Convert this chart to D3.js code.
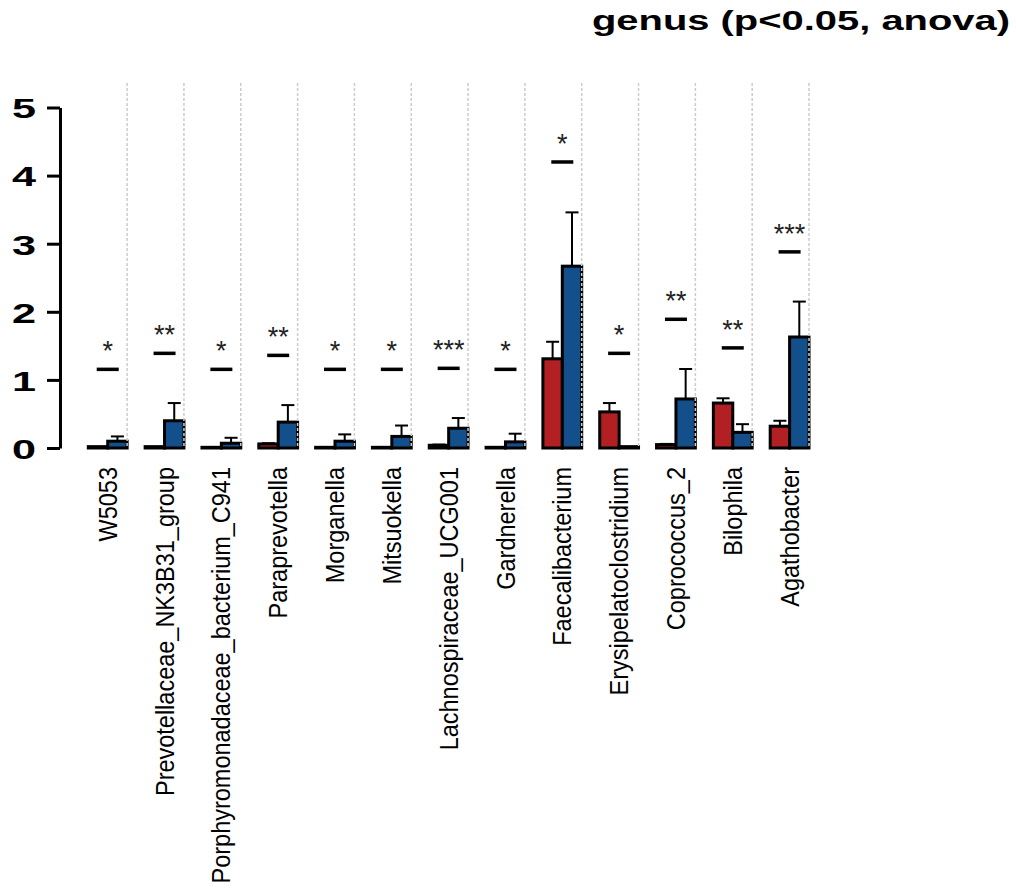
<!DOCTYPE html>
<html>
<head>
<meta charset="utf-8">
<script src="https://cdn.jsdelivr.net/npm/d3@7"></script>
<style>
  body { margin: 0; background: #fff; }
  text { font-family: "Liberation Sans", Arial, Helvetica, sans-serif; }
</style>
</head>
<body>
<div id="chart"></div>
<script>
// Data set
let genus = ["W5053", "Prevotellaceae_NK3B31_group", "Porphyromonadaceae_bacterium_C941",
  "Paraprevotella", "Morganella", "Mitsuokella", "Lachnospiraceae_UCG001", "Gardnerella",
  "Faecalibacterium", "Erysipelatoclostridium", "Coprococcus_2", "Bilophila", "Agathobacter"];
let groups = ["red", "blue"];
let redMean = [0.02, 0.02, 0.01, 0.06, 0.01, 0.01, 0.04, 0.01, 1.31, 0.53, 0.05, 0.66, 0.32];
let redErr  = [0, 0, 0, 0.01, 0, 0, 0.01, 0, 0.25, 0.13, 0.01, 0.07, 0.08];
let blueMean = [0.10, 0.40, 0.07, 0.38, 0.10, 0.17, 0.29, 0.09, 2.67, 0.02, 0.72, 0.23, 1.63];
let blueErr  = [0.07, 0.26, 0.08, 0.25, 0.10, 0.16, 0.15, 0.12, 0.79, 0, 0.44, 0.12, 0.52];
let sigLevel = [1.155, 1.39, 1.155, 1.36, 1.155, 1.155, 1.17, 1.155, 4.2, 1.39, 1.89, 1.47, 2.88];
let stars = ["*", "**", "*", "**", "*", "*", "***", "*", "*", "*", "**", "**", "***"];
let yTicks = [0, 1, 2, 3, 4, 5];
let title = "genus (p<0.05, anova)";

let colors = { red: "#b32024", blue: "#134f8b" };

let svg = d3.select("#chart").append("svg")
  .attr("width", 1016)
  .attr("height", 894);

// Scales
let x = d3.scaleBand().domain(genus).range([70.3, 809]);
let bw = x.bandwidth();
let xs = d3.scaleBand().domain(groups).range([bw * 0.317, bw]);
let y = d3.scaleLinear().domain([0, 5]).range([448, 107.5]);

// flatten bars
let bars = [];
genus.forEach(function (g, i) {
  bars.push({ g: g, s: "red", v: redMean[i], e: redErr[i] });
  bars.push({ g: g, s: "blue", v: blueMean[i], e: blueErr[i] });
});

// Error bars (upper only)
let err = svg.append("g").selectAll("g")
  .data(bars.filter(function (d) { return d.e > 0; }))
  .enter().append("g")
  .attr("stroke", "#000")
  .attr("stroke-width", 2);
err.append("line")
  .attr("x1", function (d) { return x(d.g) + xs(d.s) + xs.bandwidth() / 2; })
  .attr("x2", function (d) { return x(d.g) + xs(d.s) + xs.bandwidth() / 2; })
  .attr("y1", function (d) { return y(d.v); })
  .attr("y2", function (d) { return y(d.v + d.e); });
err.append("line")
  .attr("x1", function (d) { return x(d.g) + xs(d.s) + xs.bandwidth() / 2 - 6.5; })
  .attr("x2", function (d) { return x(d.g) + xs(d.s) + xs.bandwidth() / 2 + 6.5; })
  .attr("y1", function (d) { return y(d.v + d.e); })
  .attr("y2", function (d) { return y(d.v + d.e); });

// Bars
svg.append("g").selectAll("rect")
  .data(bars)
  .enter().append("rect")
  .attr("x", function (d) { return x(d.g) + xs(d.s); })
  .attr("width", xs.bandwidth())
  .attr("y", function (d) { return y(d.v); })
  .attr("height", function (d) { return y(0) - y(d.v); })
  .attr("fill", function (d) { return colors[d.s]; })
  .attr("stroke", "#000")
  .attr("stroke-width", 3);

// Dotted separators
svg.append("g").selectAll("line")
  .data(genus)
  .enter().append("line")
  .attr("x1", function (d) { return x(d) + bw; })
  .attr("x2", function (d) { return x(d) + bw; })
  .attr("y1", 83)
  .attr("y2", y(0))
  .attr("stroke", "#cccccc")
  .attr("stroke-width", 1.5)
  .attr("stroke-dasharray", "3,2");

// Significance lines + stars
let mid = function (g) { return x(g) + xs("blue"); };
svg.append("g").selectAll("line")
  .data(genus)
  .enter().append("line")
  .attr("x1", function (d) { return mid(d) - 11; })
  .attr("x2", function (d) { return mid(d) + 11; })
  .attr("y1", function (d, i) { return y(sigLevel[i]); })
  .attr("y2", function (d, i) { return y(sigLevel[i]); })
  .attr("stroke", "#000")
  .attr("stroke-width", 3.5);
svg.append("g").selectAll("text")
  .data(genus)
  .enter().append("text")
  .attr("x", function (d) { return mid(d); })
  .attr("y", function (d, i) { return y(sigLevel[i]) - 9; })
  .attr("text-anchor", "middle")
  .attr("font-size", 27)
  .attr("fill", "#222")
  .text(function (d, i) { return stars[i]; });

// Y axis
let yAxis = svg.append("g")
  .attr("transform", "translate(60,0)")
  .call(d3.axisLeft(y).tickValues(yTicks).tickSize(13).tickSizeOuter(0).tickFormat(d3.format("d")));
yAxis.select(".domain").attr("stroke-width", 3);
yAxis.selectAll(".tick line").attr("stroke-width", 3);
yAxis.selectAll(".tick text")
  .attr("x", 0)
  .attr("dy", null)
  .attr("dominant-baseline", "central")
  .attr("transform", "translate(-24,1) scale(1.6,1)")
  .attr("font-size", 27)
  .attr("font-weight", "bold")
  .attr("fill", "#000");

// X labels
svg.append("g").selectAll("text")
  .data(genus)
  .enter().append("text")
  .attr("transform", function (d) { return "translate(" + mid(d) + ",467) scale(1.1,1) rotate(-90)"; })
  .attr("dy", "0.35em")
  .attr("text-anchor", "end")
  .attr("font-size", 23.5)
  .attr("fill", "#000")
  .text(function (d) { return d; });

// Title
svg.append("text")
  .attr("x", 1010)
  .attr("y", 30)
  .attr("text-anchor", "end")
  .attr("font-size", 28)
  .attr("font-weight", "bold")
  .attr("textLength", 418)
  .attr("lengthAdjust", "spacingAndGlyphs")
  .text(title);
</script>
</body>
</html>
